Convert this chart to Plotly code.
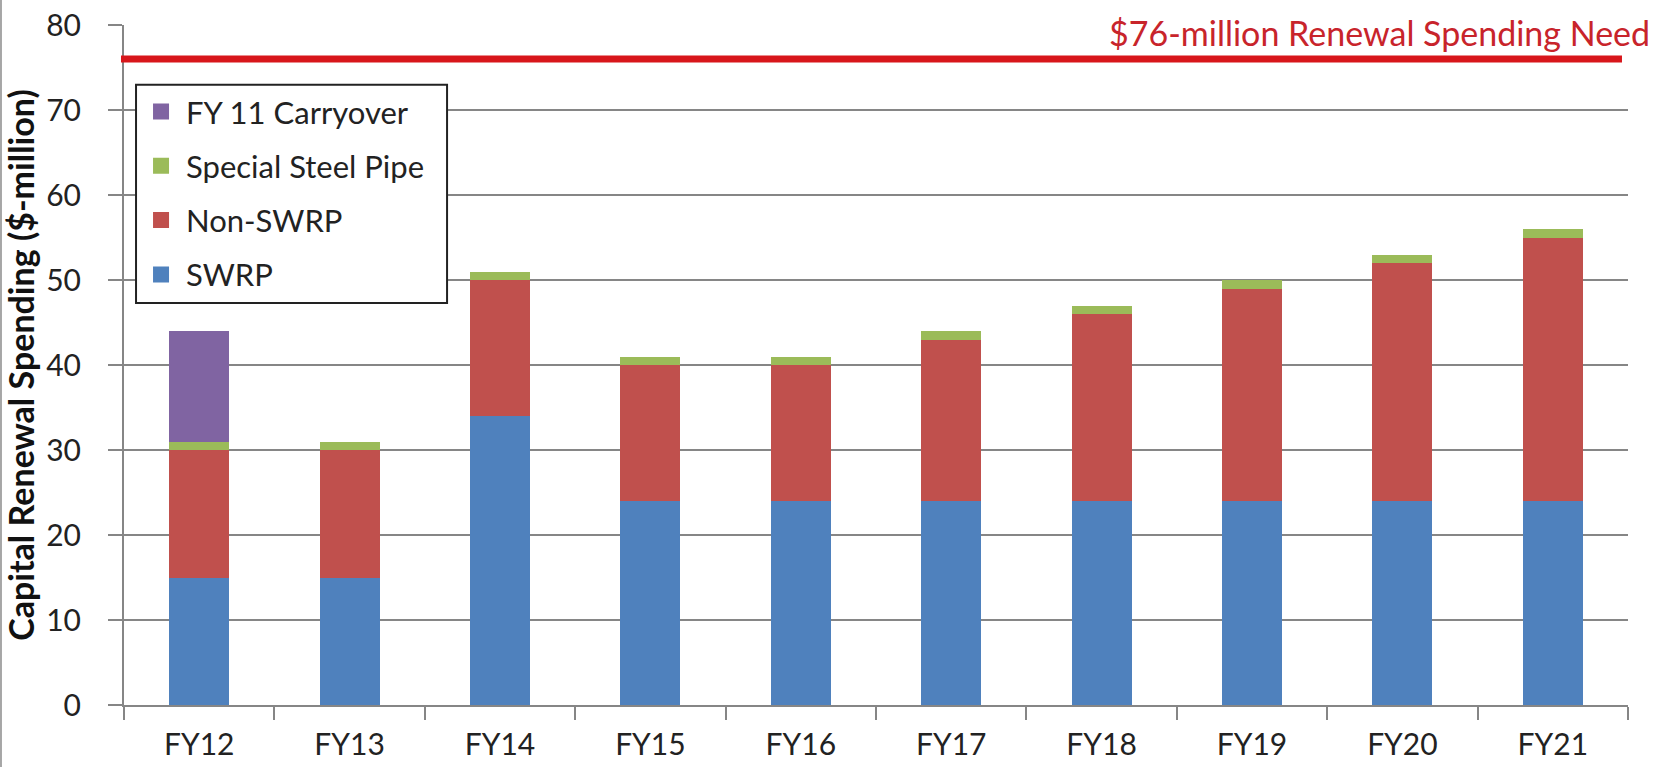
import plotly.graph_objects as go

# Fiscal-year categories and spending components ($-million)
years = ["FY12", "FY13", "FY14", "FY15", "FY16", "FY17", "FY18", "FY19", "FY20", "FY21"]
swrp = [15, 15, 34, 24, 24, 24, 24, 24, 24, 24]
non_swrp = [15, 15, 16, 16, 16, 19, 22, 25, 28, 31]
steel_pipe = [1, 1, 1, 1, 1, 1, 1, 1, 1, 1]
carryover = [13, 0, 0, 0, 0, 0, 0, 0, 0, 0]
need_level = 76
need_label = "$76-million Renewal Spending Need"
y_ticks = [0, 10, 20, 30, 40, 50, 60, 70, 80]

# stacking order, bottom to top
series = [
    ("SWRP", swrp, "#4F81BD"),
    ("Non-SWRP", non_swrp, "#C0504D"),
    ("Special Steel Pipe", steel_pipe, "#9BBB59"),
    ("FY 11 Carryover", carryover, "#8064A2"),
]

FONT = "Lato"
fig = go.Figure()

for name, vals, color in series:
    fig.add_trace(go.Bar(
        x=years, y=vals, name=name, marker=dict(color=color, line=dict(width=0)),
        showlegend=False,
    ))

# legend entries listed top-down (top of stack first), with larger square swatches
for i, (name, vals, color) in enumerate(reversed(series)):
    fig.add_trace(go.Scatter(
        x=[None], y=[None], mode="markers", name=name,
        marker=dict(symbol="square", size=16, color=color),
        legendgroup=f"g{i}", showlegend=True,
    ))

# legend frame (white box with dark border, a little wider than the entries)
LEG_X0, LEG_X1, LEG_Y0, LEG_Y1 = 0.008, 0.2148, 0.591, 0.912
fig.add_shape(type="rect", xref="paper", yref="paper",
              x0=LEG_X0, x1=LEG_X1, y0=LEG_Y0, y1=LEG_Y1,
              fillcolor="white", line=dict(color="#222222", width=2), layer="above")

# renewal spending need line
fig.add_shape(type="line", xref="paper", yref="y",
              x0=-0.002, x1=0.996, y0=need_level, y1=need_level,
              line=dict(color="#D8161B", width=7), layer="above")
fig.add_annotation(text=need_label, xref="paper", yref="y",
                   x=1.0159, y=need_level + 0.5, xanchor="right", yanchor="bottom",
                   showarrow=False, font=dict(family=FONT, size=34, color="#C8242B"))

# thin frame edge at the left of the page
fig.add_shape(type="line", xref="paper", yref="paper",
              x0=-0.0818, x1=-0.0818, y0=-0.1, y1=1.04,
              line=dict(color="#A6A6A6", width=2))

fig.update_layout(
    width=1669, height=767,
    margin=dict(l=124, r=41, t=25, b=62, autoexpand=False),
    paper_bgcolor="white", plot_bgcolor="white",
    barmode="stack", bargap=0.6,
    font=dict(family=FONT, color="#222222"),
    legend=dict(
        x=LEG_X0, y=LEG_Y1, xanchor="left", yanchor="top",
        traceorder="grouped", tracegroupgap=11,
        bgcolor="rgba(0,0,0,0)", borderwidth=0,
        font=dict(family=FONT, size=31, color="#222222"),
        itemsizing="trace", itemwidth=40,
    ),
    xaxis=dict(
        automargin=False,
        showgrid=False, showline=True, linecolor="#868686", linewidth=2,
        ticks="outside", tickson="boundaries", ticklen=13, tickwidth=2, tickcolor="#868686",
        tickfont=dict(family=FONT, size=30, color="#222222"), ticklabelstandoff=12,
        range=[-0.5, 9.5],
    ),
    yaxis=dict(
        automargin=False,
        range=[0, 80], tickvals=y_ticks,
        showgrid=True, gridcolor="#868686", gridwidth=2,
        showline=True, linecolor="#868686", linewidth=2,
        ticks="outside", ticklen=14, tickwidth=2, tickcolor="#868686",
        tickfont=dict(family=FONT, size=30, color="#222222"), ticklabelstandoff=21,
        zeroline=False,
        title=dict(text="<b>Capital Renewal Spending ($-million)</b>",
                   font=dict(family=FONT, size=34, color="#111111"), standoff=2),
    ),
)

fig.write_html("out.html")
